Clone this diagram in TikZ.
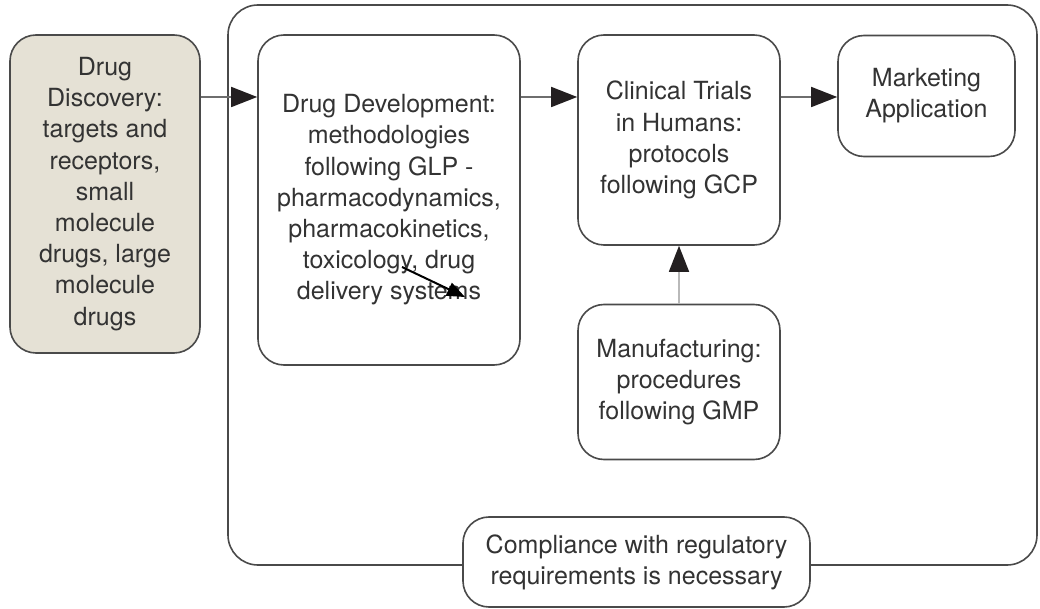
\documentclass[tikz,border=0pt]{standalone}
\usepackage{fontspec}
\setmainfont{TeX Gyre Heros}
\usetikzlibrary{arrows.meta}
\definecolor{boxline}{HTML}{4A4A4A}
\definecolor{linkline}{HTML}{6E6E6E}
\definecolor{headfill}{HTML}{231F20}
\definecolor{discfill}{HTML}{E5E1D5}
\definecolor{txtcol}{HTML}{333333}
\begin{document}
\begin{tikzpicture}[x=0.5pt, y=-0.5pt,
  stage/.style={draw=boxline, line width=0.8pt, rounded corners=13pt, fill=white, align=center, inner sep=0pt,
    text=txtcol, font=\fontsize{12.5pt}{15.6pt}\selectfont},
  link/.style={draw=linkline, line width=0.8pt, -{Triangle[length=13pt, width=10pt, color=headfill]}}]
\useasboundingbox (0,0) rectangle (1040,609);
\node[draw=boxline, line width=0.8pt, rounded corners=15pt, minimum width=404.5pt, minimum height=280pt] (frame) at (632.5,285){};
\node[stage, fill=discfill, minimum width=95pt, minimum height=159pt] (disc) at (105,194){Drug\\Discovery:\\targets and\\receptors,\\small\\molecule\\drugs, large\\molecule\\drugs};
\node[stage, minimum width=131pt, minimum height=165pt] (dev) at (389,200){Drug Development:\\methodologies\\following GLP -\\pharmacodynamics,\\pharmacokinetics,\\toxicology, drug\\delivery systems};
\node[stage, minimum width=101pt, minimum height=105pt] (clin) at (679,140){Clinical Trials\\in Humans:\\protocols\\following GCP};
\node[stage, minimum width=88.5pt, minimum height=60.5pt] (mkt) at (926.5,96){Marketing\\Application};
\node[stage, minimum width=101pt, minimum height=77.5pt] (manu) at (679,382){Manufacturing:\\procedures\\following GMP};
\node[stage, minimum width=173.5pt, minimum height=45pt] (comp) at (636.5,562){Compliance with regulatory\\requirements is necessary};
\coordinate (s0) at (402,267);
\coordinate (s1) at (465,297);
\draw[link] (disc.east |- 0,97) -- (dev.west |- 0,97);
\draw[link] (dev.east |- 0,97) -- (clin.west |- 0,97);
\draw[link] (clin.east |- 0,97) -- (mkt.west |- 0,97);
\draw[link, draw=gray!55] (manu) -- (clin);
\draw[line width=1pt, -{Triangle[length=9pt, width=7pt]}] (s0) -- (s1);
\end{tikzpicture}
\end{document}
